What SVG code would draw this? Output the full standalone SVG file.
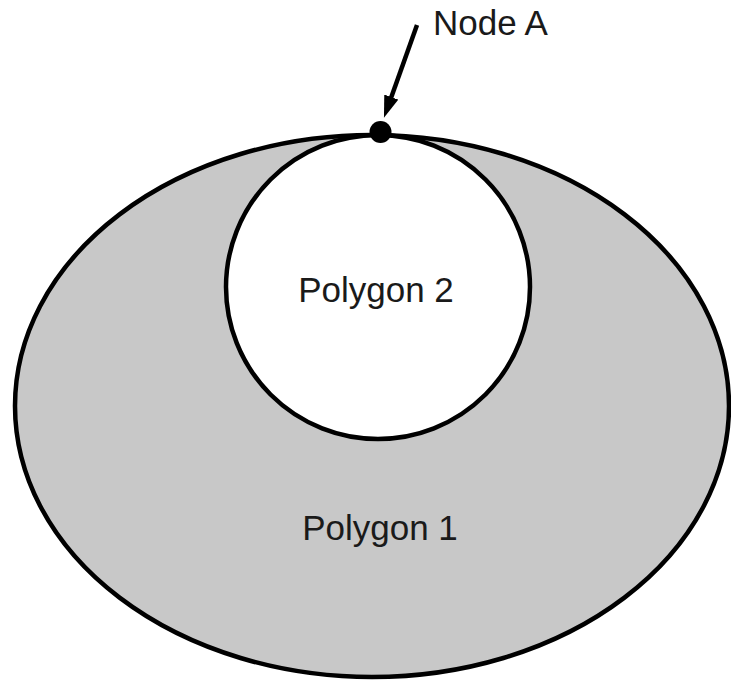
<svg xmlns="http://www.w3.org/2000/svg" width="731" height="683" viewBox="0 0 731 683">
<defs>
<style>
.shape{stroke:#000;stroke-width:4.5}
.lbl{font-family:"Liberation Sans",Arial,sans-serif;font-size:35px;fill:#1a1a1a}
</style>
<marker id="ah" markerWidth="22" markerHeight="15" refX="1" refY="7.5" orient="auto" markerUnits="userSpaceOnUse">
<path d="M0,0 L22,7.5 L0,15 z" fill="#000"/>
</marker>
</defs>
<rect width="731" height="683" fill="#fff"/>
<g id="polygon1">
<ellipse class="shape" cx="372" cy="406" rx="357" ry="271" fill="#c8c8c8"/>
<text class="lbl" x="380" y="540" text-anchor="middle">Polygon 1</text>
</g>
<g id="polygon2">
<circle class="shape" cx="378" cy="287" r="152" fill="#fff"/>
<text class="lbl" x="376" y="302" text-anchor="middle">Polygon 2</text>
</g>
<g id="nodeA">
<circle cx="380.5" cy="132" r="11" fill="#000"/>
<text class="lbl" x="433" y="35">Node A</text>
</g>
<g id="connectors">
<line x1="417" y1="25" x2="391" y2="98" stroke="#000" stroke-width="4.5" marker-end="url(#ah)"/>
</g>
</svg>
